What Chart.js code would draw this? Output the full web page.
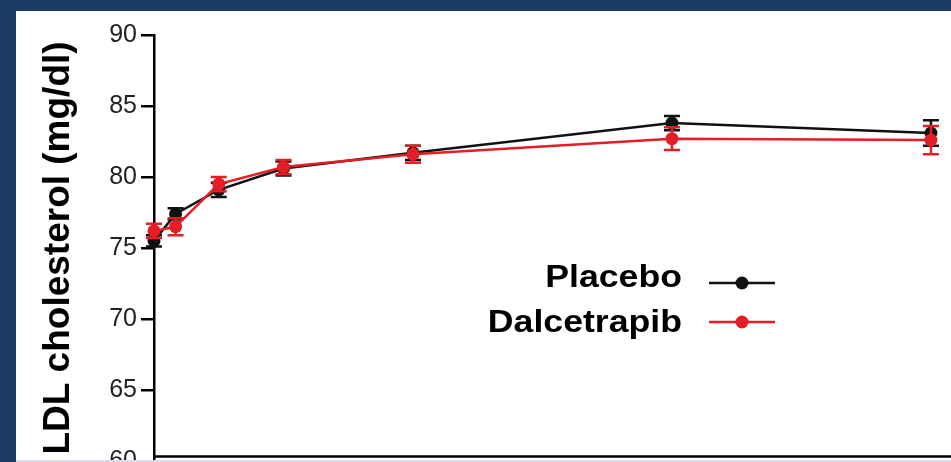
<!DOCTYPE html>
<html>
<head>
<meta charset="utf-8">
<script src="https://cdn.jsdelivr.net/npm/chart.js@4/dist/chart.umd.min.js"></script>
<style>
  html, body { margin: 0; padding: 0; background: #1b3a62; }
  #frame { position: relative; width: 951px; height: 462px; overflow: hidden; background: #1b3a62; }
  #panel { position: absolute; left: 16px; top: 11px; width: 935px; height: 451px; background: #ffffff; }
  #strip { position: absolute; left: 16px; top: 460px; width: 935px; height: 2px; background: #dcdcee; }
  #chart { position: absolute; left: 0; top: 0; }
</style>
</head>
<body>
<div id="frame">
  <div id="panel"></div>
  <canvas id="chart" width="951" height="462"></canvas>
  <div id="strip"></div>
</div>
<script>
// Months since randomisation
const months = [0, 1, 3, 6, 12, 24, 36];

// Mean LDL cholesterol (mg/dl) and standard error per visit
const placebo = [75.5, 77.4, 79.1, 80.6, 81.7, 83.8, 83.1];
const placeboErr = [0.4, 0.4, 0.5, 0.5, 0.5, 0.5, 0.9];
const dalcetrapib = [76.2, 76.5, 79.5, 80.7, 81.6, 82.7, 82.6];
const dalcetrapibErr = [0.5, 0.6, 0.5, 0.5, 0.6, 0.8, 1.0];

// Y axis range and step
const yTicks = [60, 65, 70, 75, 80, 85, 90];

const seriesNames = ['Placebo', 'Dalcetrapib'];
const seriesColors = ['#111111', '#e41e26'];

const toPoints = (vals) => months.map((m, i) => ({ x: m, y: vals[i] }));
const errors = [placeboErr, dalcetrapibErr];

// Vertical error bars with caps, drawn just before each dataset's line
const errorBars = {
  id: 'errorBars',
  beforeDatasetDraw(chart, args) {
    const { ctx, scales: { x, y } } = chart;
    const ds = chart.data.datasets[args.index];
    const err = errors[args.index];
    ctx.save();
    ctx.strokeStyle = ds.borderColor;
    ctx.lineWidth = 2.5;
    ds.data.forEach((p, i) => {
      const px = x.getPixelForValue(p.x);
      const top = y.getPixelForValue(p.y + err[i]);
      const bot = y.getPixelForValue(p.y - err[i]);
      ctx.beginPath();
      ctx.moveTo(px, top); ctx.lineTo(px, bot);
      ctx.moveTo(px - 8, top); ctx.lineTo(px + 8, top);
      ctx.moveTo(px - 8, bot); ctx.lineTo(px + 8, bot);
      ctx.stroke();
    });
    ctx.restore();
  }
};

// Horizontal axis line, set slightly above the floor of the y range
const xAxisLine = {
  id: 'xAxisLine',
  beforeDatasetsDraw(chart) {
    const { ctx, chartArea } = chart;
    const yy = chartArea.bottom - 4.5;
    ctx.save();
    ctx.strokeStyle = '#000';
    ctx.lineWidth = 2.5;
    ctx.beginPath();
    ctx.moveTo(chartArea.left - 1, yy);
    ctx.lineTo(chartArea.right, yy);
    ctx.stroke();
    ctx.restore();
  }
};

// Legend inside the plot: bold names on the left, line-and-dot sample on the right
const insideLegend = {
  id: 'insideLegend',
  afterDraw(chart) {
    const { ctx } = chart;
    const rows = [
      { textY: 287, lineY: 283 },
      { textY: 332, lineY: 322 }
    ];
    ctx.save();
    chart.data.datasets.forEach((ds, i) => {
      const r = rows[i];
      ctx.save();
      ctx.translate(682, r.textY);
      ctx.scale(1.15, 1);
      ctx.font = 'bold 31px "Liberation Sans", Arial, sans-serif';
      ctx.fillStyle = '#000';
      ctx.textAlign = 'right';
      ctx.textBaseline = 'alphabetic';
      ctx.fillText(ds.label, 0, 0);
      ctx.restore();
      ctx.strokeStyle = ds.borderColor;
      ctx.lineWidth = 2.5;
      ctx.beginPath();
      ctx.moveTo(709, r.lineY); ctx.lineTo(775, r.lineY);
      ctx.stroke();
      ctx.fillStyle = ds.borderColor;
      ctx.beginPath();
      ctx.arc(742, r.lineY, 6.5, 0, Math.PI * 2);
      ctx.fill();
    });
    ctx.restore();
  }
};

new Chart(document.getElementById('chart'), {
  type: 'line',
  data: {
    datasets: [
      {
        label: seriesNames[0],
        data: toPoints(placebo),
        borderColor: seriesColors[0],
        backgroundColor: seriesColors[0],
        borderWidth: 2.5,
        pointRadius: 6.5,
        pointHoverRadius: 6.5,
        pointBorderWidth: 0,
        tension: 0,
        clip: false,
        order: 1
      },
      {
        label: seriesNames[1],
        data: toPoints(dalcetrapib),
        borderColor: seriesColors[1],
        backgroundColor: seriesColors[1],
        borderWidth: 2.5,
        pointRadius: 6.5,
        pointHoverRadius: 6.5,
        pointBorderWidth: 0,
        tension: 0,
        clip: false,
        order: 0
      }
    ]
  },
  options: {
    responsive: false,
    animation: false,
    devicePixelRatio: 1,
    layout: { autoPadding: false, padding: { left: 0, top: 35, right: 0, bottom: 1 } },
    plugins: {
      legend: { display: false },
      tooltip: { enabled: false }
    },
    scales: {
      x: {
        type: 'linear',
        display: false,
        min: 0,
        max: 36.93
      },
      y: {
        min: yTicks[0],
        max: yTicks[yTicks.length - 1],
        ticks: {
          stepSize: yTicks[1] - yTicks[0],
          padding: 4,
          color: '#222',
          font: { family: '"Liberation Sans", Arial, sans-serif', size: 25 }
        },
        grid: {
          display: true,
          drawOnChartArea: false,
          drawTicks: true,
          tickLength: 13,
          tickWidth: 2.5,
          tickColor: '#000',
          color: '#000',
          lineWidth: 2.5
        },
        border: { display: true, color: '#000', width: 2.5 },
        title: {
          display: true,
          text: 'LDL cholesterol (mg/dl)',
          color: '#000',
          padding: { top: 37, bottom: 0 },
          font: { family: '"Liberation Sans", Arial, sans-serif', size: 37, weight: 'bold' }
        },
        afterFit(scale) {
          scale.width = 154;
          scale.paddingTop = 0;
          scale.paddingBottom = 0;
        }
      }
    }
  },
  plugins: [errorBars, xAxisLine, insideLegend]
});
</script>
</body>
</html>
